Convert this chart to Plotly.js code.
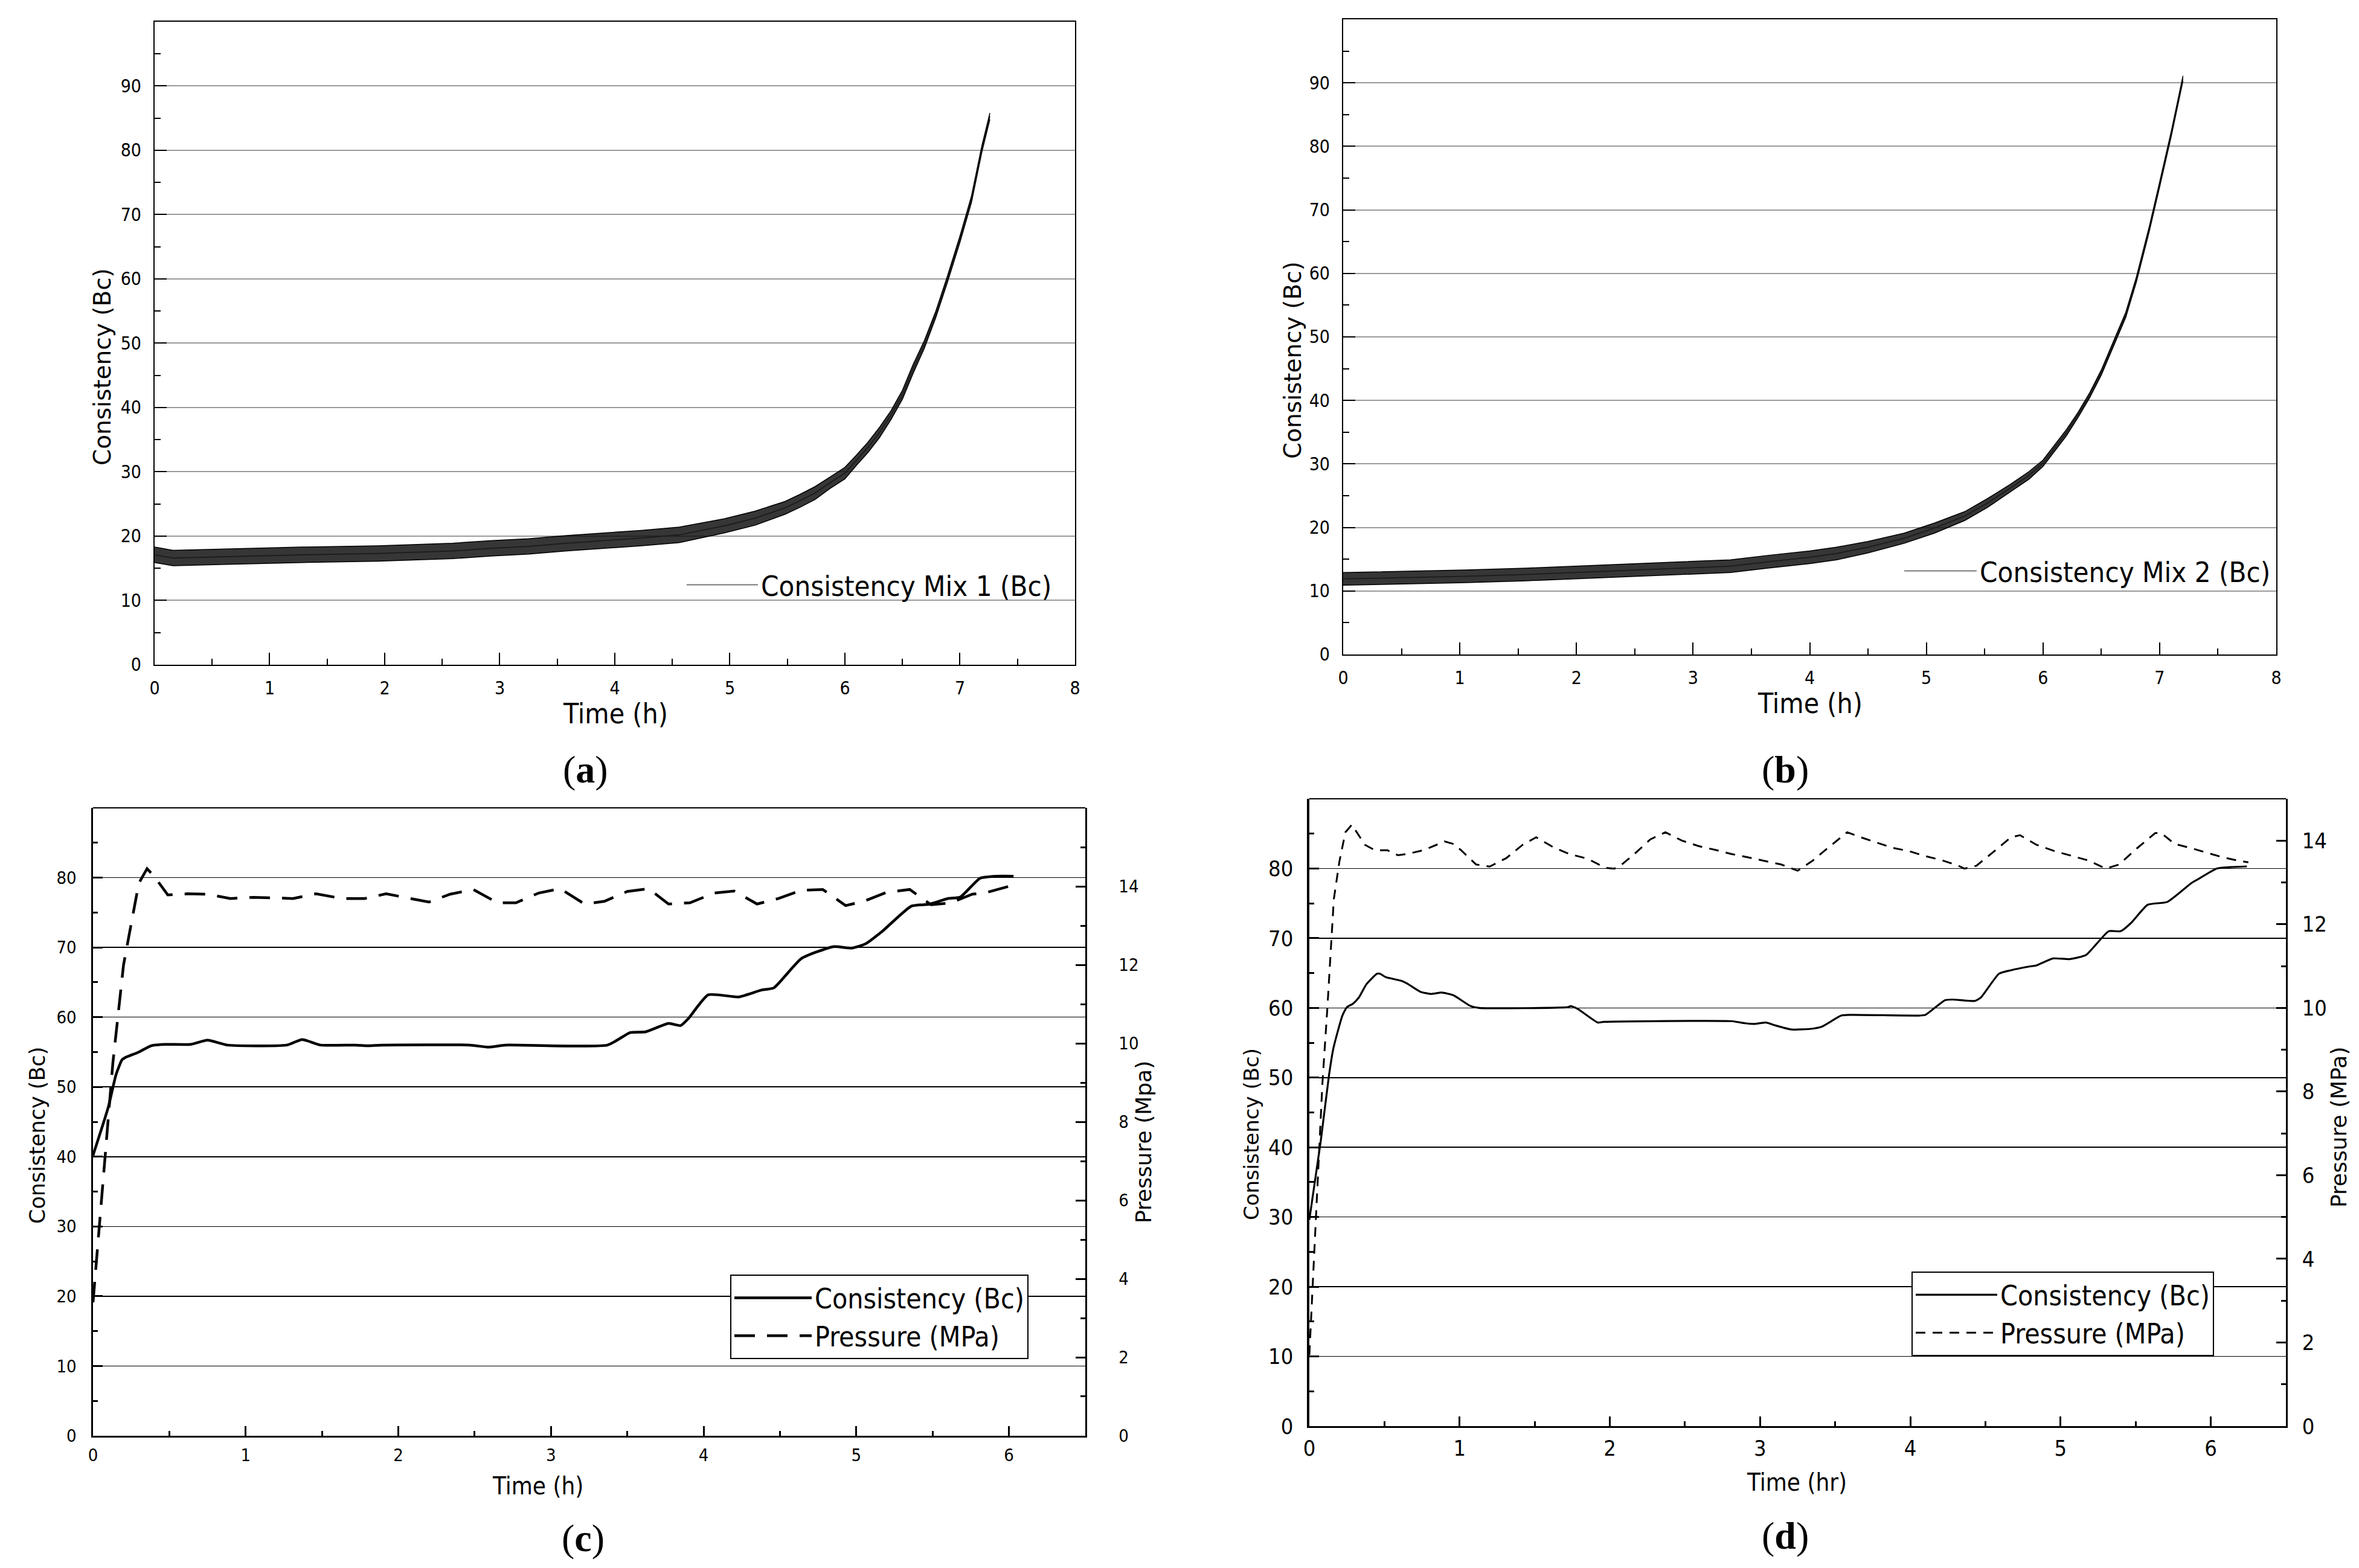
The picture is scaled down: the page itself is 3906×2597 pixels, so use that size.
<!DOCTYPE html>
<html>
<head>
<meta charset="utf-8">
<script src="https://cdn.plot.ly/plotly-3.0.1.min.js"></script>
<style>
  html, body { margin: 0; padding: 0; background: #fff; }
  #chart { width: 3906px; height: 2597px; }
</style>
</head>
<body>
<div id="chart"></div>
<script>
// (a) Mix 1: noisy trace, read as centre line plus band edges
const timeA = [0, 0.16, 0.62, 1.28, 1.94, 2.59, 2.92, 3.25, 3.58, 3.90, 4.23, 4.56, 4.95, 5.22, 5.48, 5.61, 5.74, 5.87, 6.00, 6.10, 6.20, 6.30, 6.40, 6.50, 6.59, 6.69, 6.79, 6.89, 7.00, 7.10, 7.19, 7.26];
const midA = [17.1, 16.6, 16.8, 17.1, 17.3, 17.7, 18.1, 18.4, 18.9, 19.3, 19.7, 20.2, 21.6, 22.8, 24.4, 25.5, 26.7, 28.3, 29.8, 31.8, 33.8, 36.1, 38.8, 42.0, 45.9, 49.8, 54.5, 59.9, 66.2, 72.4, 80.2, 85.3];
const lowA = [15.9, 15.4, 15.6, 15.9, 16.1, 16.5, 16.9, 17.2, 17.7, 18.1, 18.5, 19.0, 20.5, 21.7, 23.4, 24.5, 25.7, 27.4, 28.9, 31.0, 33.0, 35.3, 38.1, 41.3, 45.2, 49.2, 54.0, 59.4, 65.7, 71.9, 79.7, 84.8];
const highA = [18.3, 17.8, 18.0, 18.3, 18.5, 18.9, 19.3, 19.6, 20.1, 20.5, 20.9, 21.4, 22.7, 23.9, 25.4, 26.5, 27.7, 29.2, 30.7, 32.6, 34.6, 36.9, 39.5, 42.7, 46.6, 50.4, 55.0, 60.4, 66.7, 72.9, 80.7, 85.8];

// (b) Mix 2
const timeB = [0, 0.54, 1.05, 1.57, 2.09, 2.61, 3.0, 3.32, 3.64, 4.0, 4.23, 4.5, 4.81, 5.07, 5.33, 5.52, 5.72, 5.88, 6.0, 6.1, 6.2, 6.3, 6.4, 6.5, 6.6, 6.71, 6.8, 6.91, 7.0, 7.1, 7.2];
const midB = [11.9, 12.1, 12.3, 12.6, 13.0, 13.4, 13.7, 13.9, 14.6, 15.3, 15.9, 16.9, 18.3, 19.9, 21.8, 23.8, 26.2, 28.2, 30.1, 32.5, 34.9, 37.7, 40.8, 44.4, 48.7, 53.5, 59.0, 66.9, 74.0, 82.0, 90.7];
const lowB = [10.9, 11.1, 11.3, 11.6, 12.0, 12.4, 12.7, 12.9, 13.6, 14.3, 14.9, 16.0, 17.5, 19.1, 21.1, 23.1, 25.6, 27.6, 29.6, 32.0, 34.4, 37.3, 40.4, 44.0, 48.3, 53.1, 58.6, 66.5, 73.6, 81.6, 90.3];
const highB = [12.9, 13.1, 13.3, 13.6, 14.0, 14.4, 14.7, 14.9, 15.6, 16.3, 16.9, 17.8, 19.1, 20.7, 22.5, 24.5, 26.8, 28.8, 30.6, 33.0, 35.4, 38.1, 41.2, 44.8, 49.1, 53.9, 59.4, 67.3, 74.4, 82.4, 91.1];

// (c) consistency and pressure
const timeC = [0, 0.10, 0.15, 0.19, 0.21, 0.30, 0.38, 0.47, 0.64, 0.75, 0.88, 1.27, 1.37, 1.49, 1.72, 1.80, 1.89, 2.47, 2.59, 2.70, 3.37, 3.52, 3.62, 3.77, 3.85, 3.90, 4.03, 4.23, 4.38, 4.46, 4.64, 4.85, 4.97, 5.06, 5.17, 5.36, 5.48, 5.60, 5.68, 5.81, 5.92, 6.03];
const consC = [40.2, 47.1, 51.7, 53.9, 54.2, 55.0, 55.9, 56.1, 56.1, 56.7, 56.0, 56.0, 56.8, 56.0, 56.0, 55.9, 56.0, 56.0, 55.7, 56.0, 56.0, 57.8, 57.9, 59.1, 58.8, 59.8, 63.2, 62.9, 63.9, 64.2, 68.4, 70.1, 69.9, 70.5, 72.3, 75.9, 76.2, 77.0, 77.2, 79.9, 80.2, 80.2];
const timePC = [0, 0.035, 0.06, 0.13, 0.20, 0.30, 0.354, 0.40, 0.49, 0.62, 0.75, 0.90, 1.05, 1.20, 1.31, 1.46, 1.63, 1.78, 1.92, 2.08, 2.20, 2.34, 2.49, 2.65, 2.77, 2.92, 3.06, 3.22, 3.35, 3.50, 3.64, 3.77, 3.91, 4.07, 4.20, 4.35, 4.49, 4.64, 4.78, 4.93, 5.05, 5.20, 5.35, 5.49, 5.62, 5.76, 5.86, 6.01];
const presC = [3.4, 5.1, 6.3, 9.5, 12.0, 14.08, 14.45, 14.26, 13.78, 13.81, 13.80, 13.69, 13.72, 13.71, 13.69, 13.81, 13.69, 13.69, 13.81, 13.69, 13.60, 13.80, 13.92, 13.58, 13.58, 13.83, 13.94, 13.55, 13.62, 13.87, 13.94, 13.55, 13.58, 13.83, 13.88, 13.55, 13.69, 13.90, 13.92, 13.51, 13.62, 13.85, 13.92, 13.53, 13.58, 13.80, 13.85, 14.01];

// (d) consistency and pressure
const timeD = [0, 0.076, 0.13, 0.16, 0.22, 0.25, 0.29, 0.33, 0.38, 0.45, 0.47, 0.51, 0.61, 0.65, 0.74, 0.81, 0.88, 0.96, 1.07, 1.13, 1.72, 1.74, 1.79, 1.92, 1.96, 2.81, 2.90, 2.96, 3.04, 3.10, 3.21, 3.34, 3.41, 3.54, 3.60, 4.06, 4.10, 4.23, 4.28, 4.43, 4.47, 4.59, 4.67, 4.78, 4.84, 4.95, 5.06, 5.17, 5.32, 5.40, 5.47, 5.58, 5.71, 5.87, 5.91, 6.04, 6.13, 6.24];
const consD = [29.6, 40.9, 50.2, 54.2, 58.9, 60.1, 60.6, 61.5, 63.4, 64.9, 64.9, 64.4, 63.9, 63.5, 62.3, 62.0, 62.2, 61.8, 60.3, 60.0, 60.1, 60.25, 59.8, 57.9, 58.0, 58.1, 57.8, 57.7, 57.9, 57.5, 56.9, 57.0, 57.3, 58.9, 59.0, 58.9, 59.0, 61.1, 61.2, 61.0, 61.5, 64.9, 65.4, 65.9, 66.1, 67.1, 67.0, 67.6, 71.0, 71.0, 72.2, 74.8, 75.2, 77.9, 78.4, 80.0, 80.2, 80.3];
const timePD = [0, 0.04, 0.087, 0.12, 0.14, 0.163, 0.20, 0.24, 0.283, 0.37, 0.436, 0.52, 0.59, 0.65, 0.76, 0.90, 0.96, 1.01, 1.11, 1.20, 1.31, 1.42, 1.51, 1.62, 1.73, 1.85, 1.97, 2.03, 2.07, 2.16, 2.27, 2.37, 2.48, 2.59, 2.70, 2.81, 2.92, 3.03, 3.14, 3.25, 3.35, 3.45, 3.58, 3.67, 3.78, 3.88, 3.99, 4.10, 4.21, 4.32, 4.36, 4.44, 4.56, 4.67, 4.73, 4.84, 4.96, 5.08, 5.19, 5.30, 5.39, 5.51, 5.63, 5.67, 5.76, 5.87, 5.98, 6.08, 6.17, 6.25];
const presD = [1.70, 4.6, 8.2, 10.0, 11.3, 12.6, 13.5, 14.2, 14.38, 13.90, 13.77, 13.77, 13.65, 13.68, 13.77, 13.98, 13.92, 13.77, 13.43, 13.38, 13.58, 13.90, 14.08, 13.85, 13.68, 13.57, 13.35, 13.33, 13.40, 13.67, 14.03, 14.20, 14.00, 13.87, 13.78, 13.68, 13.60, 13.52, 13.43, 13.28, 13.52, 13.82, 14.20, 14.08, 13.95, 13.83, 13.75, 13.63, 13.53, 13.40, 13.33, 13.40, 13.75, 14.08, 14.13, 13.90, 13.75, 13.63, 13.52, 13.33, 13.43, 13.82, 14.18, 14.18, 13.92, 13.82, 13.70, 13.60, 13.53, 13.48];

const tickVals10 = [0, 10, 20, 30, 40, 50, 60, 70, 80, 90];
const tickVals80 = [0, 10, 20, 30, 40, 50, 60, 70, 80];
const pressTicks = [0, 2, 4, 6, 8, 10, 12, 14];

const NARROW = 'Liberation Sans Narrow, DejaVu Sans Condensed, sans-serif';
const COND = 'DejaVu Sans Condensed, DejaVu Sans, sans-serif';
const WIDE = 'DejaVu Sans, Verdana, sans-serif';
const SERIF = 'Liberation Serif, DejaVu Serif, serif';

function bandTraces(t, mid, lo, hi, name, xa, ya, leg) {
    return [
        { x: t, y: mid, name: name, type: 'scatter', mode: 'lines', xaxis: xa, yaxis: ya,
          line: { color: '#777', width: 2 }, legend: leg },
        { x: t, y: lo, type: 'scatter', mode: 'lines', xaxis: xa, yaxis: ya, showlegend: false,
          line: { color: '#000', width: 1.5 } },
        { x: t, y: hi, type: 'scatter', mode: 'lines', xaxis: xa, yaxis: ya, showlegend: false,
          fill: 'tonexty', fillcolor: 'rgba(10,10,10,0.82)', line: { color: '#000', width: 1.5 } }
    ];
}

let data = [];
data = data.concat(bandTraces(timeA, midA, lowA, highA, 'Consistency Mix 1 (Bc)', 'x', 'y', 'legend'));
data = data.concat(bandTraces(timeB, midB, lowB, highB, 'Consistency Mix 2 (Bc)', 'x2', 'y2', 'legend2'));
data.push({ x: timeC, y: consC, name: 'Consistency (Bc)', type: 'scatter', mode: 'lines',
            xaxis: 'x3', yaxis: 'y3', legend: 'legend3',
            line: { color: '#000', width: 4.5, shape: 'spline', smoothing: 0.5 } });
data.push({ x: timePC, y: presC, name: 'Pressure (MPa)', type: 'scatter', mode: 'lines',
            xaxis: 'x3', yaxis: 'y5', legend: 'legend3',
            line: { color: '#000', width: 4.5, dash: '34px,20px' } });
data.push({ x: timeD, y: consD, name: 'Consistency (Bc)', type: 'scatter', mode: 'lines',
            xaxis: 'x4', yaxis: 'y4', legend: 'legend4',
            line: { color: '#000', width: 3.2, shape: 'spline', smoothing: 0.5 } });
data.push({ x: timePD, y: presD, name: 'Pressure (MPa)', type: 'scatter', mode: 'lines',
            xaxis: 'x4', yaxis: 'y6', legend: 'legend4',
            line: { color: '#000', width: 3, dash: '16px,12px' } });

// top-row axis style: thin box, grey grid
function topX(domain, anchor) {
    return { domain: domain, anchor: anchor, range: [0, 8], tickvals: [0, 1, 2, 3, 4, 5, 6, 7, 8],
             showline: true, mirror: true, linecolor: '#000', linewidth: 2, zeroline: false,
             ticks: 'inside', ticklen: 20, tickwidth: 2, tickcolor: '#000', showgrid: false,
             minor: { dtick: 0.5, ticks: 'inside', ticklen: 10, tickwidth: 2, tickcolor: '#000', showgrid: false },
             tickfont: { family: COND, size: 30, color: '#000' }, ticklabelstandoff: 11 };
}
function topY(domain, anchor) {
    return { domain: domain, anchor: anchor, range: [0, 100], tickvals: tickVals10,
             showline: true, mirror: true, linecolor: '#000', linewidth: 2, zeroline: false,
             ticks: 'inside', ticklen: 20, tickwidth: 2, tickcolor: '#000',
             showgrid: true, gridcolor: '#9a9a9a', gridwidth: 2,
             minor: { dtick: 5, ticks: 'inside', ticklen: 10, tickwidth: 2, tickcolor: '#000', showgrid: false },
             tickfont: { family: COND, size: 30, color: '#000' }, ticklabelstandoff: 14 };
}
// bottom-row axis style: heavy frame, black grid
function botX(domain, anchor, font, size, standoff) {
    return { domain: domain, anchor: anchor, range: [0, 6.5], tickvals: [0, 1, 2, 3, 4, 5, 6],
             showline: true, linecolor: '#000', linewidth: 3.5, zeroline: false,
             ticks: 'inside', ticklen: 16, tickwidth: 3, tickcolor: '#000', showgrid: false,
             minor: { dtick: 0.5, ticks: 'inside', ticklen: 8, tickwidth: 3, tickcolor: '#000', showgrid: false },
             tickfont: { family: font, size: size, color: '#000' }, ticklabelstandoff: standoff };
}
function botY(domain, anchor, font, size, standoff) {
    return { domain: domain, anchor: anchor, range: [0, 90], tickvals: tickVals80,
             showline: true, linecolor: '#000', linewidth: 3.5, zeroline: false,
             ticks: 'inside', ticklen: 16, tickwidth: 3, tickcolor: '#000',
             showgrid: true, gridcolor: '#000', gridwidth: 1.5,
             minor: { dtick: 5, ticks: 'inside', ticklen: 8, tickwidth: 3, tickcolor: '#000', showgrid: false },
             tickfont: { family: font, size: size, color: '#000' }, ticklabelstandoff: standoff };
}
function pressY(over, anchor, top, font, size, standoff) {
    return { overlaying: over, anchor: anchor, side: 'right', range: [0, top], tickvals: pressTicks,
             showline: true, linecolor: '#000', linewidth: 3.5, zeroline: false, showgrid: false,
             ticks: 'inside', ticklen: 16, tickwidth: 3, tickcolor: '#000',
             minor: { dtick: 1, ticks: 'inside', ticklen: 8, tickwidth: 3, tickcolor: '#000', showgrid: false },
             tickfont: { family: font, size: size, color: '#000' }, ticklabelstandoff: standoff };
}

function note(text, x, y, font, size, angle) {
    return { text: text, xref: 'paper', yref: 'paper', x: x, y: y, xanchor: 'center', yanchor: 'middle',
             showarrow: false, textangle: angle || 0, font: { family: font, size: size, color: '#000' } };
}

const layout = {
    width: 3906, height: 2597, autosize: false,
    margin: { l: 0, r: 0, t: 0, b: 0 },
    paper_bgcolor: '#fff', plot_bgcolor: '#fff',
    showlegend: true,
    xaxis: topX([0.06554, 0.45571], 'y'),
    yaxis: topY([0.57605, 0.98614], 'x'),
    xaxis2: topX([0.56938, 0.96493], 'y2'),
    yaxis2: topY([0.58260, 0.98768], 'x2'),
    xaxis3: botX([0.03943, 0.46006], 'y3', NARROW, 29, 4),
    yaxis3: botY([0.08433, 0.48479], 'x3', NARROW, 29, 18),
    yaxis5: pressY('y3', 'x3', 16, NARROW, 29, 46),
    xaxis4: botX([0.55504, 0.96902], 'y4', COND, 36, 2),
    yaxis4: botY([0.09049, 0.49056], 'x4', COND, 36, 16),
    yaxis6: pressY('y4', 'x4', 15, COND, 36, 16),
    legend: { x: 0.28981, xanchor: 'left', y: 0.62688, yanchor: 'middle', bgcolor: 'rgba(0,0,0,0)',
              borderwidth: 0, itemwidth: 118, font: { family: NARROW, size: 47, color: '#000' } },
    legend2: { x: 0.80594, xanchor: 'left', y: 0.63573, yanchor: 'middle', bgcolor: 'rgba(0,0,0,0)',
               borderwidth: 0, itemwidth: 120, font: { family: NARROW, size: 47, color: '#000' } },
    legend3: { x: 0.30952, xanchor: 'left', y: 0.18714, yanchor: 'top', bgcolor: '#fff',
               bordercolor: '#000', borderwidth: 2, itemwidth: 128, tracegroupgap: 0,
               font: { family: NARROW, size: 46, color: '#000' } },
    legend4: { x: 0.81029, xanchor: 'left', y: 0.18906, yanchor: 'top', bgcolor: '#fff',
               bordercolor: '#000', borderwidth: 2, itemwidth: 135, tracegroupgap: 0,
               font: { family: NARROW, size: 46, color: '#000' } },
    shapes: [
        { type: 'line', xref: 'x3 domain', yref: 'y3 domain', x0: 0, x1: 1, y0: 1, y1: 1, line: { color: '#000', width: 2 } },
        { type: 'line', xref: 'x4 domain', yref: 'y4 domain', x0: 0, x1: 1, y0: 1, y1: 1, line: { color: '#000', width: 2 } }
    ],
    annotations: [
        note('Time (h)', 0.26088, 0.54486, NARROW, 46),
        note('Consistency (Bc)', 0.04327, 0.76588, WIDE, 39, -90),
        note('(<b>a</b>)', 0.24808, 0.50905, SERIF, 64),
        note('Time (h)', 0.76728, 0.55140, NARROW, 46),
        note('Consistency (Bc)', 0.54787, 0.77050, WIDE, 39, -90),
        note('(<b>b</b>)', 0.75678, 0.50905, SERIF, 64),
        note('Time (h)', 0.22786, 0.05237, NARROW, 40),
        note('Consistency (Bc)', 0.01587, 0.27609, WIDE, 35, -90),
        note('Pressure (Mpa)', 0.48490, 0.27147, WIDE, 36, -90),
        note('(<b>c</b>)', 0.24706, 0.01925, SERIF, 64),
        note('Time (hr)', 0.76165, 0.05468, NARROW, 40),
        note('Consistency (Bc)', 0.53046, 0.27686, WIDE, 34, -90),
        note('Pressure (MPa)', 0.99130, 0.28109, WIDE, 36, -90),
        note('(<b>d</b>)', 0.75678, 0.02079, SERIF, 64)
    ]
};

Plotly.newPlot('chart', data, layout, { staticPlot: true, displayModeBar: false });
</script>
</body>
</html>
